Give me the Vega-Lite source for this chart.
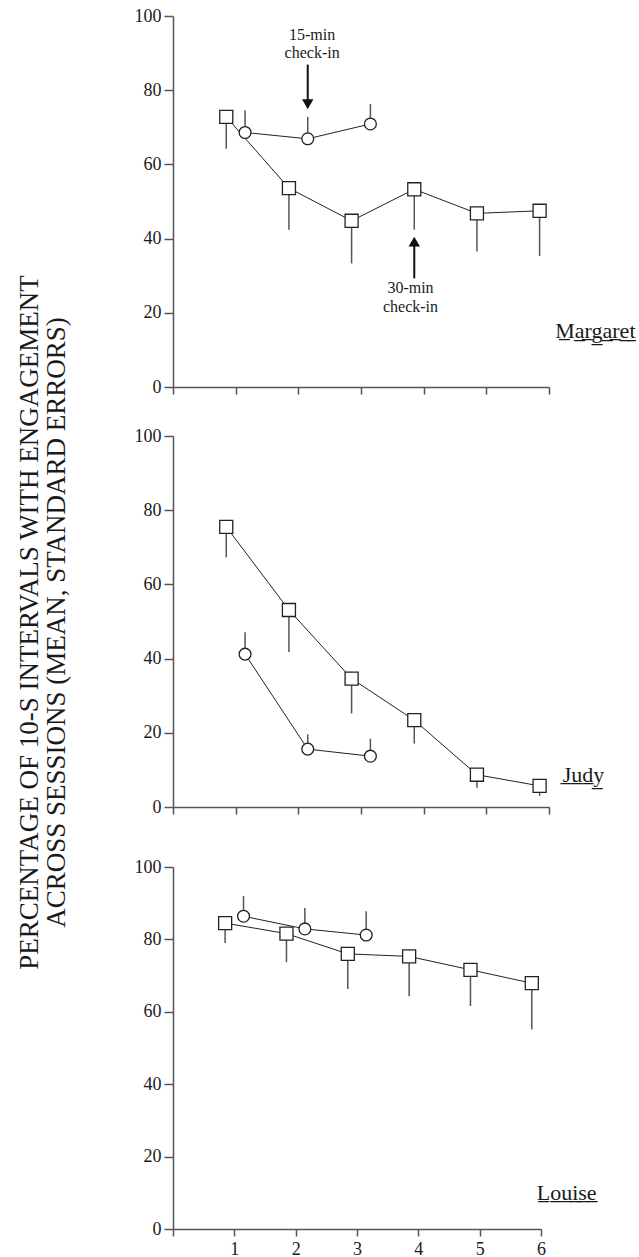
{
  "$schema": "https://vega.github.io/schema/vega-lite/v6.json",
  "padding": {"left": 15, "top": 7, "right": 0, "bottom": 0},
  "spacing": 31,
  "title": {
    "text": ["PERCENTAGE OF 10-S INTERVALS WITH ENGAGEMENT", "ACROSS SESSIONS (MEAN, STANDARD ERRORS)"],
    "orient": "left",
    "anchor": "middle",
    "offset": 63,
    "dx": 10,
    "font": "Liberation Serif",
    "fontSize": 27,
    "fontWeight": "normal",
    "color": "#1a1a1a",
    "lineHeight": 27
  },
  "datasets": {
    "points": [
      {"participant": "Margaret", "series": "30-min check-in", "x": 0.85, "y": 72.8, "err": 64.2},
      {"participant": "Margaret", "series": "30-min check-in", "x": 1.85, "y": 53.6, "err": 42.4},
      {"participant": "Margaret", "series": "30-min check-in", "x": 2.85, "y": 44.8, "err": 33.3},
      {"participant": "Margaret", "series": "30-min check-in", "x": 3.85, "y": 53.3, "err": 42.4},
      {"participant": "Margaret", "series": "30-min check-in", "x": 4.85, "y": 46.8, "err": 36.5},
      {"participant": "Margaret", "series": "30-min check-in", "x": 5.85, "y": 47.5, "err": 35.3},
      {"participant": "Margaret", "series": "15-min check-in", "x": 1.15, "y": 68.6, "err": 74.6},
      {"participant": "Margaret", "series": "15-min check-in", "x": 2.15, "y": 66.9, "err": 72.8},
      {"participant": "Margaret", "series": "15-min check-in", "x": 3.15, "y": 70.9, "err": 76.3},
      {"participant": "Judy", "series": "30-min check-in", "x": 0.85, "y": 75.5, "err": 67.3},
      {"participant": "Judy", "series": "30-min check-in", "x": 1.85, "y": 53.1, "err": 41.8},
      {"participant": "Judy", "series": "30-min check-in", "x": 2.85, "y": 34.6, "err": 25.2},
      {"participant": "Judy", "series": "30-min check-in", "x": 3.85, "y": 23.4, "err": 17.1},
      {"participant": "Judy", "series": "30-min check-in", "x": 4.85, "y": 8.7, "err": 5.2},
      {"participant": "Judy", "series": "30-min check-in", "x": 5.85, "y": 5.7, "err": 3.0},
      {"participant": "Judy", "series": "15-min check-in", "x": 1.15, "y": 41.2, "err": 47.1},
      {"participant": "Judy", "series": "15-min check-in", "x": 2.15, "y": 15.6, "err": 19.6},
      {"participant": "Judy", "series": "15-min check-in", "x": 3.15, "y": 13.7, "err": 18.4},
      {"participant": "Louise", "series": "30-min check-in", "x": 0.85, "y": 84.5, "err": 79.0},
      {"participant": "Louise", "series": "30-min check-in", "x": 1.85, "y": 81.6, "err": 73.7},
      {"participant": "Louise", "series": "30-min check-in", "x": 2.85, "y": 76.0, "err": 66.3},
      {"participant": "Louise", "series": "30-min check-in", "x": 3.85, "y": 75.3, "err": 64.3},
      {"participant": "Louise", "series": "30-min check-in", "x": 4.85, "y": 71.6, "err": 61.6},
      {"participant": "Louise", "series": "30-min check-in", "x": 5.85, "y": 67.9, "err": 55.1},
      {"participant": "Louise", "series": "15-min check-in", "x": 1.15, "y": 86.4, "err": 92.0},
      {"participant": "Louise", "series": "15-min check-in", "x": 2.15, "y": 82.9, "err": 88.7},
      {"participant": "Louise", "series": "15-min check-in", "x": 3.15, "y": 81.2, "err": 87.8}
    ],
    "names": [
      {"participant": "Margaret", "label": "M\u0332a\u0332r\u0332g\u0332a\u0332r\u0332e\u0332t\u0332", "x": 6.10, "y": 13.1},
      {"participant": "Judy", "label": "J\u0332u\u0332d\u0332y\u0332", "x": 6.22, "y": 6.74},
      {"participant": "Louise", "label": "L\u0332o\u0332u\u0332i\u0332s\u0332e\u0332", "x": 5.93, "y": 8.0}
    ],
    "notes": [
      {"line": "15-min", "x": 2.22, "y": 94.8},
      {"line": "check-in", "x": 2.22, "y": 90.1},
      {"line": "30-min", "x": 3.79, "y": 26.6},
      {"line": "check-in", "x": 3.79, "y": 21.6}
    ],
    "arrows": [
      {"label": "15-min check-in", "dir": "down", "x": 2.15, "y": 86.9, "y2": 77.0, "head": 76.2},
      {"label": "30-min check-in", "dir": "up", "x": 3.85, "y": 29.3, "y2": 38.0, "head": 39.2}
    ]
  },
  "vconcat": [
    {
      "width": 376,
      "height": 371,
      "encoding": {
        "x": {"field": "x", "type": "quantitative", "scale": {"domain": [0, 6]}, "title": null, "axis": {"values": [0, 1, 2, 3, 4, 5, 6], "labels": false}},
        "y": {"field": "y", "type": "quantitative", "scale": {"domain": [0, 100]}, "title": null, "axis": {"values": [0, 20, 40, 60, 80, 100]}}
      },
      "layer": [
        {"data": {"name": "points"}, "transform": [{"filter": "datum.participant === 'Margaret'"}],
         "mark": {"type": "line", "color": "#222", "strokeWidth": 1},
         "encoding": {"detail": {"field": "series"}}},
        {"data": {"name": "points"}, "transform": [{"filter": "datum.participant === 'Margaret'"}],
         "mark": {"type": "rule", "color": "#555", "strokeWidth": 1.5},
         "encoding": {"y2": {"field": "err"}}},
        {"data": {"name": "points"}, "transform": [{"filter": "datum.participant === 'Margaret' && datum.series === '30-min check-in'"}],
         "mark": {"type": "point", "shape": "square", "size": 170, "filled": true, "fill": "white", "stroke": "#222", "strokeWidth": 1.3, "opacity": 1}},
        {"data": {"name": "points"}, "transform": [{"filter": "datum.participant === 'Margaret' && datum.series === '15-min check-in'"}],
         "mark": {"type": "point", "shape": "circle", "size": 140, "filled": true, "fill": "white", "stroke": "#222", "strokeWidth": 1.3, "opacity": 1}},
        {"data": {"name": "arrows"},
         "mark": {"type": "rule", "color": "#111", "strokeWidth": 2},
         "encoding": {"y2": {"field": "y2"}}},
        {"data": {"name": "arrows"},
         "mark": {"type": "point", "filled": true, "color": "#111", "size": 130, "opacity": 1},
         "encoding": {
           "y": {"field": "head", "type": "quantitative", "scale": {"domain": [0, 100]}, "title": null},
           "shape": {"field": "dir", "type": "nominal", "scale": {"domain": ["down", "up"], "range": ["triangle-down", "triangle-up"]}, "legend": null}
         }},
        {"data": {"name": "notes"},
         "mark": {"type": "text", "font": "Liberation Serif", "fontSize": 16, "align": "center", "baseline": "middle", "color": "#1a1a1a"},
         "encoding": {"text": {"field": "line"}}},
        {"data": {"name": "names"}, "transform": [{"filter": "datum.participant === 'Margaret'"}],
         "mark": {"type": "text", "font": "Liberation Serif", "fontSize": 22, "align": "left", "baseline": "alphabetic", "color": "#1a1a1a"},
         "encoding": {"text": {"field": "label"}}}
      ]
    },
    {
      "width": 376,
      "height": 371,
      "encoding": {
        "x": {"field": "x", "type": "quantitative", "scale": {"domain": [0, 6]}, "title": null, "axis": {"values": [0, 1, 2, 3, 4, 5, 6], "labelOpacity": 0, "labelFontSize": 10, "labelPadding": 3}},
        "y": {"field": "y", "type": "quantitative", "scale": {"domain": [0, 100]}, "title": null, "axis": {"values": [0, 20, 40, 60, 80, 100]}}
      },
      "layer": [
        {"data": {"name": "points"}, "transform": [{"filter": "datum.participant === 'Judy'"}],
         "mark": {"type": "line", "color": "#222", "strokeWidth": 1},
         "encoding": {"detail": {"field": "series"}}},
        {"data": {"name": "points"}, "transform": [{"filter": "datum.participant === 'Judy'"}],
         "mark": {"type": "rule", "color": "#555", "strokeWidth": 1.5},
         "encoding": {"y2": {"field": "err"}}},
        {"data": {"name": "points"}, "transform": [{"filter": "datum.participant === 'Judy' && datum.series === '30-min check-in'"}],
         "mark": {"type": "point", "shape": "square", "size": 170, "filled": true, "fill": "white", "stroke": "#222", "strokeWidth": 1.3, "opacity": 1}},
        {"data": {"name": "points"}, "transform": [{"filter": "datum.participant === 'Judy' && datum.series === '15-min check-in'"}],
         "mark": {"type": "point", "shape": "circle", "size": 140, "filled": true, "fill": "white", "stroke": "#222", "strokeWidth": 1.3, "opacity": 1}},
        {"data": {"name": "names"}, "transform": [{"filter": "datum.participant === 'Judy'"}],
         "mark": {"type": "text", "font": "Liberation Serif", "fontSize": 22, "align": "left", "baseline": "alphabetic", "color": "#1a1a1a"},
         "encoding": {"text": {"field": "label"}}}
      ]
    },
    {
      "width": 368,
      "height": 362,
      "encoding": {
        "x": {"field": "x", "type": "quantitative", "scale": {"domain": [0, 6]}, "title": null, "axis": {"values": [0, 1, 2, 3, 4, 5, 6], "labelExpr": "datum.value === 0 ? '' : datum.label", "labelFlush": false}},
        "y": {"field": "y", "type": "quantitative", "scale": {"domain": [0, 100]}, "title": null, "axis": {"values": [0, 20, 40, 60, 80, 100]}}
      },
      "layer": [
        {"data": {"name": "points"}, "transform": [{"filter": "datum.participant === 'Louise'"}],
         "mark": {"type": "line", "color": "#222", "strokeWidth": 1},
         "encoding": {"detail": {"field": "series"}}},
        {"data": {"name": "points"}, "transform": [{"filter": "datum.participant === 'Louise'"}],
         "mark": {"type": "rule", "color": "#555", "strokeWidth": 1.5},
         "encoding": {"y2": {"field": "err"}}},
        {"data": {"name": "points"}, "transform": [{"filter": "datum.participant === 'Louise' && datum.series === '30-min check-in'"}],
         "mark": {"type": "point", "shape": "square", "size": 170, "filled": true, "fill": "white", "stroke": "#222", "strokeWidth": 1.3, "opacity": 1}},
        {"data": {"name": "points"}, "transform": [{"filter": "datum.participant === 'Louise' && datum.series === '15-min check-in'"}],
         "mark": {"type": "point", "shape": "circle", "size": 140, "filled": true, "fill": "white", "stroke": "#222", "strokeWidth": 1.3, "opacity": 1}},
        {"data": {"name": "names"}, "transform": [{"filter": "datum.participant === 'Louise'"}],
         "mark": {"type": "text", "font": "Liberation Serif", "fontSize": 22, "align": "left", "baseline": "alphabetic", "color": "#1a1a1a"},
         "encoding": {"text": {"field": "label"}}}
      ]
    }
  ],
  "config": {
    "view": {"stroke": null},
    "font": "Liberation Serif",
    "axis": {
      "labelFont": "Liberation Serif", "labelFontSize": 18, "labelColor": "#1a1a1a",
      "domainColor": "#555", "domainWidth": 1.5, "tickColor": "#555", "tickWidth": 1.5,
      "grid": false,
      "titleFont": "Liberation Serif", "titleFontWeight": "normal", "titleColor": "#1a1a1a"
    },
    "axisY": {"tickSize": 9, "labelPadding": 3},
    "axisX": {"tickSize": 7, "labelPadding": 4}
  }
}
